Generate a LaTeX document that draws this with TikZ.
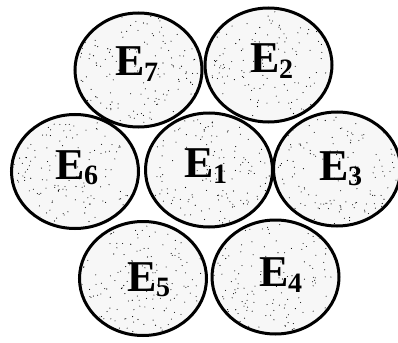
\documentclass[tikz,border=0pt]{standalone}
\usepackage{fontspec}
\setmainfont{Liberation Serif}
\usetikzlibrary{shapes.geometric}
\newcommand{\lab}[1]{\fontsize{44}{44}\selectfont\bfseries E\kern-1pt\raisebox{-0.12em}{\fontsize{28}{28}\selectfont #1}}
\begin{document}
\begin{tikzpicture}[x=1pt,y=-1pt,
  cell/.style={draw=black,line width=3pt,fill=black!3,ellipse,minimum width=127pt,minimum height=114pt,inner sep=0pt},
  lbl/.style={inner sep=0pt}]
\useasboundingbox (0,0) rectangle (398,342);
\pgfmathsetseed{4242}
\foreach \n/\cx/\cy in {7/138.5/70, 2/268.5/65, 6/75/171.5, 1/209/170, 3/337/169, 5/143/278.5, 4/275.5/277}{
  \node[cell] (c\n) at (\cx,\cy) {};
  \begin{scope}
    \clip (\cx,\cy) ellipse [x radius=62pt, y radius=55pt];
    \foreach \k in {1,...,170}{
      \pgfmathsetmacro{\dx}{rand*62}
      \pgfmathsetmacro{\dy}{rand*55}
      \fill[black] (\cx+\dx,\cy+\dy) circle [radius=0.55pt];
    }
  \end{scope}
}
\node[lbl] (l7) at (137,64) {\lab{7}};
\node[lbl] (l2) at (272,61) {\lab{2}};
\node[lbl] (l6) at (77,168) {\lab{6}};
\node[lbl] (l1) at (206,166) {\lab{1}};
\node[lbl] (l3) at (341,169) {\lab{3}};
\node[lbl] (l5) at (149,280) {\lab{5}};
\node[lbl] (l4) at (281,275) {\lab{4}};
\end{tikzpicture}
\end{document}
